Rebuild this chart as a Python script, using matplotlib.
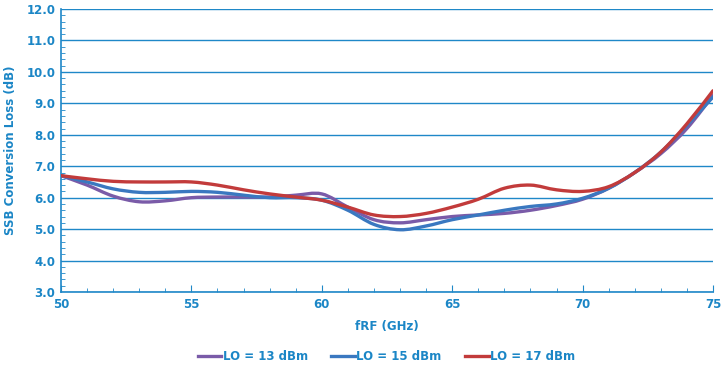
import numpy as np
import matplotlib
matplotlib.use('Agg')
import matplotlib.pyplot as plt
from matplotlib.path import Path
from matplotlib.patches import PathPatch
from matplotlib.lines import Line2D

freq = [50, 51, 52, 53, 54, 55, 56, 57, 58, 59, 60, 61, 62,
        63, 64, 65, 66, 67, 68, 69, 70, 71, 72, 73, 74, 75]
lo13 = [6.70, 6.40, 6.05, 5.87, 5.90, 6.00, 6.02, 6.02, 6.02, 6.08, 6.12, 5.70, 5.30,
        5.20, 5.30, 5.40, 5.45, 5.50, 5.60, 5.75, 5.95, 6.30, 6.80, 7.40, 8.20, 9.25]
lo15 = [6.70, 6.50, 6.28, 6.17, 6.17, 6.20, 6.17, 6.08, 6.00, 6.00, 5.92, 5.60, 5.15,
        4.98, 5.10, 5.30, 5.45, 5.60, 5.72, 5.80, 5.98, 6.30, 6.80, 7.45, 8.30, 9.20]
lo17 = [6.70, 6.60, 6.52, 6.50, 6.50, 6.50, 6.40, 6.25, 6.12, 6.02, 5.92, 5.70, 5.45,
        5.40, 5.50, 5.70, 5.95, 6.30, 6.40, 6.25, 6.20, 6.35, 6.80, 7.45, 8.35, 9.40]
labels = ['LO = 13 dBm', 'LO = 15 dBm', 'LO = 17 dBm']
colors = ['#7a5ba8', '#3a78c0', '#c23b3b']

TXT = '#1b86c6'
FONT = {'family': 'DejaVu Sans', 'weight': 'bold', 'size': 8.5}


def smooth_path(x, y, t=1/6):
    # Catmull-Rom style bezier through the points (like a spreadsheet "smoothed line")
    x = np.asarray(x, float)
    y = np.asarray(y, float)
    pts = np.column_stack([x, y])
    verts = [pts[0]]
    codes = [Path.MOVETO]
    n = len(pts)
    for i in range(n - 1):
        p0 = pts[i - 1] if i > 0 else pts[i]
        p1 = pts[i]
        p2 = pts[i + 1]
        p3 = pts[i + 2] if i + 2 < n else pts[i + 1]
        c1 = p1 + (p2 - p0) * t
        c2 = p2 - (p3 - p1) * t
        verts += [c1, c2, p2]
        codes += [Path.CURVE4] * 3
    return Path(verts, codes)


fig = plt.figure(figsize=(7.22, 3.68), dpi=100)
ax = fig.add_axes([0.0845, 0.2065, 0.903, 0.769])

for ys, c in zip([lo13, lo15, lo17], colors):
    ax.add_patch(PathPatch(smooth_path(freq, ys), facecolor='none',
                           edgecolor=c, lw=2.4, capstyle='round', zorder=3))

ax.set_xlim(50, 75)
ax.set_ylim(3, 12)
ax.set_xticks([50, 55, 60, 65, 70, 75])
ax.set_xticks(np.arange(50, 76, 1), minor=True)
ax.set_yticks(np.arange(3, 12.1, 1))
ax.set_yticks(np.arange(3, 12.01, 0.2), minor=True)
ax.set_yticklabels([f'{v:.1f}' for v in np.arange(3, 12.1, 1)])

ax.grid(axis='y', which='major', color='#1f88c8', lw=1.0)
ax.set_axisbelow(True)
for s in ['top', 'right']:
    ax.spines[s].set_visible(False)
for s in ['left', 'bottom']:
    ax.spines[s].set_color('#1f88c8')
    ax.spines[s].set_linewidth(1.2)

ax.tick_params(which='both', direction='in', colors='#1f88c8', labelcolor=TXT)
ax.tick_params(which='major', length=0, pad=4)
ax.tick_params(axis='x', which='major', length=5, direction='in')
ax.tick_params(which='minor', length=3)
for lab in ax.get_xticklabels() + ax.get_yticklabels():
    lab.set_fontproperties(FONT)

ax.set_xlabel('fRF (GHz)', color=TXT, fontdict=FONT, labelpad=7)
ax.set_ylabel('SSB Conversion Loss (dB)', color=TXT, fontdict=FONT, labelpad=7)

handles = [Line2D([0], [0], color=c, lw=2.4) for c in colors]
leg = fig.legend(handles, labels, loc='center', bbox_to_anchor=(0.535, 0.03),
                 ncol=3, frameon=False, handlelength=2.0, handletextpad=0.1,
                 columnspacing=2.0, prop=FONT)
for t in leg.get_texts():
    t.set_color(TXT)

fig.savefig('out.png', dpi=100)
